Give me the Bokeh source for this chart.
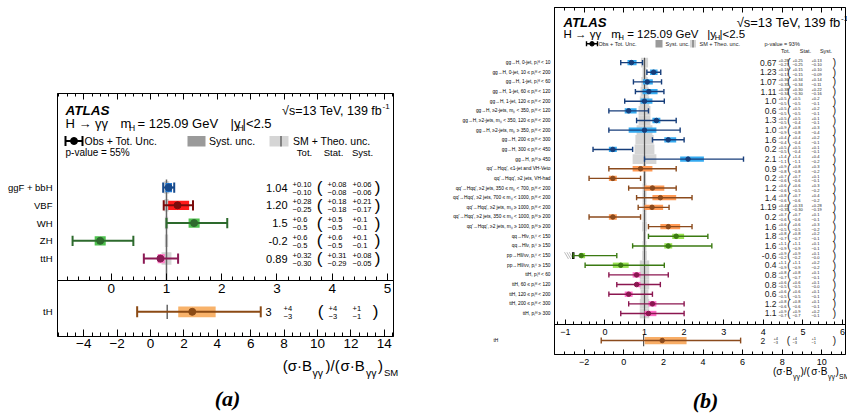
import numpy as np
from bokeh.plotting import figure
from bokeh.models import (Range1d, LinearAxis, FixedTicker, Label,
                          ColumnDataSource, CustomJSTickFormatter)
from bokeh.layouts import row
from bokeh.embed import file_html
from bokeh.resources import INLINE
from bokeh.core.properties import value

FONT = "Liberation Sans"
SERIF = "Liberation Serif"
MINUS = "\u2212"

# ======================= panel (a) data =======================
cats_a = ["ggF + bbH", "VBF", "WH", "ZH", "ttH"]
group_a = ["ggF", "VBF", "VH", "VH", "ttH"]
mu_txt_a = ["1.04", "1.20", "1.5", "-0.2", "0.89"]
tot_up_a = [0.10, 0.28, 0.6, 0.6, 0.32]
tot_dn_a = [0.10, 0.25, 0.5, 0.5, 0.30]
stat_up_a = [0.08, 0.18, 0.5, 0.6, 0.31]
stat_dn_a = [0.08, 0.18, 0.5, 0.5, 0.29]
syst_up_a = [0.06, 0.21, 0.1, 0.1, 0.08]
syst_dn_a = [0.06, 0.17, 0.1, 0.1, 0.05]
theo_a = [0.05, 0.04, 0.03, 0.03, 0.09]
pvalue_a = "55%"

th_name = "tH"
th_mu_a = 2.5
th_txt_a = "3"
th_tot_a = [4.1, 3.3]     # up, down
th_stat_a = [4.0, 3.2]
th_syst_a = [1.4, 0.84]

# ======================= panel (b) data =======================
P = "p\u209c\u1d34"
PV = "p\u209c\u2c7d"
MJ = "m\u2c7c\u2c7c"
cats_b = [
    f"gg\u2192H, 0-jet, {P} < 10",
    f"gg\u2192H, 0-jet, 10 \u2264 {P} < 200",
    f"gg\u2192H, 1-jet, {P} < 60",
    f"gg\u2192H, 1-jet, 60 \u2264 {P} < 120",
    f"gg\u2192H, 1-jet, 120 \u2264 {P} < 200",
    f"gg\u2192H, \u22652-jets, {MJ} < 350, {P} < 120",
    f"gg\u2192H, \u22652-jets, {MJ} < 350, 120 \u2264 {P} < 200",
    f"gg\u2192H, \u22652-jets, {MJ} \u2265 350, {P} < 200",
    f"gg\u2192H, 200 \u2264 {P} < 300",
    f"gg\u2192H, 300 \u2264 {P} < 450",
    f"gg\u2192H, {P} \u2265 450",
    "qq'\u2192Hqq', \u22641-jet and VH-Veto",
    "qq'\u2192Hqq', \u22652 jets, VH-had",
    f"qq'\u2192Hqq', \u22652 jets, 350 \u2264 {MJ} < 700, {P} < 200",
    f"qq'\u2192Hqq', \u22652 jets, 700 \u2264 {MJ} < 1000, {P} < 200",
    f"qq'\u2192Hqq', \u22652 jets, {MJ} \u2265 1000, {P} < 200",
    f"qq'\u2192Hqq', \u22652 jets, 350 \u2264 {MJ} < 1000, {P} \u2265 200",
    f"qq'\u2192Hqq', \u22652 jets, {MJ} \u2265 1000, {P} \u2265 200",
    f"qq\u2192Hl\u03bd, {PV} < 150",
    f"qq\u2192Hl\u03bd, {PV} \u2265 150",
    f"pp\u2192Hll/\u03bd\u03bd, {PV} < 150",
    f"pp\u2192Hll/\u03bd\u03bd, {PV} \u2265 150",
    f"ttH, {P} < 60",
    f"ttH, 60 \u2264 {P} < 120",
    f"ttH, 120 \u2264 {P} < 200",
    f"ttH, 200 \u2264 {P} < 300",
    f"ttH, {P} \u2265 300",
]
group_b = ["ggF"] * 11 + ["VBF"] * 7 + ["WH"] * 2 + ["ZH"] * 2 + ["ttH"] * 5
mu_txt_b = ["0.67", "1.23", "1.07", "1.11", "1.0", "0.6", "1.3", "1.0", "1.6", "0.2", "2.1",
            "0.9", "0.2", "1.2", "1.4", "1.19", "0.2", "1.6",
            "1.8", "1.6", "-0.6", "0.4",
            "0.8", "0.8", "0.6", "1.2", "1.1"]
tot_up_b = [0.28, 0.18, 0.36, 0.38, 0.5, 0.5, 0.5, 0.9, 0.4, 0.5, 1.4,
            0.9, 0.7, 0.6, 0.8, 0.43, 0.7, 0.6,
            0.8, 1.1, 0.9, 1.1,
            0.8, 0.6, 0.6, 0.8, 0.9]
tot_dn_b = [0.27, 0.17, 0.35, 0.34, 0.5, 0.5, 0.5, 0.9, 0.4, 0.5, 1.1,
            0.8, 0.6, 0.6, 0.6, 0.35, 0.6, 0.5,
            0.7, 0.9, 0.2, 0.9,
            0.7, 0.5, 0.5, 0.6, 0.7]
stat_up_b = [0.25, 0.15, 0.34, 0.30, 0.5, 0.5, 0.5, 0.8, 0.4, 0.5, 1.4,
             0.8, 0.7, 0.6, 0.7, 0.33, 0.7, 0.6,
             0.8, 1.1, 0.9, 1.1,
             0.8, 0.6, 0.6, 0.8, 0.9]
stat_dn_b = [0.25, 0.15, 0.34, 0.30, 0.5, 0.5, 0.4, 0.8, 0.4, 0.4, 1.1,
             0.8, 0.6, 0.5, 0.6, 0.30, 0.6, 0.5,
             0.7, 0.9, 0.2, 0.9,
             0.7, 0.5, 0.5, 0.6, 0.7]
syst_up_b = [0.13, 0.10, 0.14, 0.22, 0.2, 0.2, 0.1, 0.3, 0.2, 0.1, 0.4,
             0.3, 0.1, 0.3, 0.4, 0.28, 0.1, 0.3,
             0.2, 0.1, 0.1, 0.2,
             0.1, 0.1, 0.1, 0.1, 0.2]
syst_dn_b = [0.10, 0.09, 0.11, 0.16, 0.1, 0.1, 0.1, 0.4, 0.1, 0.1, 0.2,
             0.2, 0.1, 0.2, 0.2, 0.19, 0.1, 0.2,
             0.1, 0.1, 0.0, 0.2,
             0.1, 0.0, 0.1, 0.1, 0.1]
theo_b = [0.09, 0.05, 0.08, 0.10, 0.12, 0.15, 0.15, 0.20, 0.23, 0.25, 0.30,
          0.04, 0.04, 0.05, 0.05, 0.05, 0.05, 0.06,
          0.04, 0.05, 0.06, 0.12,
          0.12, 0.12, 0.10, 0.12, 0.12]
limit_rows_b = [20]
pvalue_b = "93%"

th_mu_b = 1.94
th_txt_b = "2"
th_tot_b = [3.96, 3.08]
th_stat_b = [3.8, 3.0]
th_syst_b = [1.23, 0.89]

# ======================= colours =======================
bar_col_a = {"ggF": "#174a8c", "VBF": "#7a0c0c", "VH": "#2d6a2d", "ttH": "#8b1a55", "tH": "#8b4a14"}
box_col_a = {"ggF": "#2379d2", "VBF": "#ff1a1a", "VH": "#4fc24f", "ttH": "#ff80c8", "tH": "#f8b26a"}
bar_col_b = {"ggF": "#163d7a", "VBF": "#8b4a1c", "WH": "#3b7a12", "ZH": "#3b7a12", "ttH": "#8b1650", "tH": "#8b4a1c"}
box_col_b = {"ggF": "#35aaf0", "VBF": "#ff9a55", "WH": "#97e050", "ZH": "#97e050", "ttH": "#ff6cc6", "tH": "#f8ad66"}
GREY_BAND = "#d5d5d5"
SM_LINE = "#666666"


def ndec(s):
    return len(s.split(".")[1]) if "." in s else 0


def up(v, d):
    return "+" + f"{v:.{d}f}"


def dn(v, d):
    return MINUS + f"{v:.{d}f}"


def lab(p, x, y, text, size, style="normal", align="left", font=FONT, color="black"):
    p.add_layout(Label(x=x, y=y, text=text, text_font_size=f"{size}px", text_font_style=style,
                       text_align=align, text_baseline="middle", text_font=font, text_color=color))


def texts(p, xs, ys, strs, size, align="left", font=FONT, color="black"):
    src = ColumnDataSource(dict(x=xs, y=ys, t=strs))
    p.text(x="x", y="y", text="t", source=src, text_font=value(font),
           text_font_size=value(f"{size}px"), text_align=value(align),
           text_baseline=value("middle"), text_color=value(color))


def theo_bands(p, ys, theo, h):
    src = ColumnDataSource(dict(l=[1 - t for t in theo], r=[1 + t for t in theo],
                                b=[y - h / 2 for y in ys], t=[y + h / 2 for y in ys]))
    p.quad(left="l", right="r", bottom="b", top="t", source=src, fill_color=GREY_BAND, line_color=None)


def draw_rows(p, ys, mu, tup, tdn, sup, sdn, bars, boxes, box_h, cap_h, lw, dot, rng="default"):
    src = ColumnDataSource(dict(
        y=ys, mu=mu,
        lo=[m - t for m, t in zip(mu, tdn)], hi=[m + t for m, t in zip(mu, tup)],
        slo=[m - s for m, s in zip(mu, sdn)], shi=[m + s for m, s in zip(mu, sup)],
        bb=[y - box_h / 2 for y in ys], bt=[y + box_h / 2 for y in ys],
        cb=[y - cap_h / 2 for y in ys], ct=[y + cap_h / 2 for y in ys],
        bar=bars, box=boxes))
    p.quad(left="slo", right="shi", bottom="bb", top="bt", source=src, fill_color="box",
           line_color=None, x_range_name=rng)
    p.segment(x0="lo", y0="y", x1="hi", y1="y", source=src, line_color="bar", line_width=lw, x_range_name=rng)
    p.segment(x0="lo", y0="cb", x1="lo", y1="ct", source=src, line_color="bar", line_width=lw, x_range_name=rng)
    p.segment(x0="hi", y0="cb", x1="hi", y1="ct", source=src, line_color="bar", line_width=lw, x_range_name=rng)
    p.scatter(x="mu", y="y", source=src, size=dot, fill_color="bar", line_color="bar", x_range_name=rng)


minus_fmt = CustomJSTickFormatter(code="return tick < 0 ? '\u2212' + Math.abs(tick) : String(tick);")
blank_fmt = CustomJSTickFormatter(code="return '';")


def x_axis(rng, majors, minors, size, standoff, tin, tmin, fixed, bounds, labels=True):
    return LinearAxis(x_range_name=rng, ticker=FixedTicker(ticks=majors, minor_ticks=minors),
                      formatter=minus_fmt if labels else blank_fmt, major_tick_in=tin, major_tick_out=0,
                      minor_tick_in=tmin, minor_tick_out=0, major_label_standoff=standoff,
                      major_label_text_font=FONT, major_label_text_color="black",
                      major_label_text_font_size=f"{size}px", fixed_location=fixed, bounds=bounds,
                      axis_line_color="black", major_tick_line_color="black", minor_tick_line_color="black")


def make_fig(w, h, xr, yr, thr):
    p = figure(width=w, height=h, x_range=Range1d(*xr), y_range=Range1d(*yr),
               x_axis_type=None, y_axis_type=None, output_backend="svg", toolbar_location=None,
               min_border=0, outline_line_color=None, background_fill_color="white",
               border_fill_color="white")
    p.extra_x_ranges = {"th": Range1d(*thr)}
    return p


W_A = 418
W_B = 847 - W_A
H = 415

# ======================= panel (a) =======================
XA = lambda px: -0.973 + (px - 57) / 55.24        # page px -> main mu
TA = lambda px: -5.57 + (px - 57) / 16.7          # page px -> tH mu
YA = lambda py: -3.39 + (336 - py) / 17.75        # page py -> row coordinate
UA = 17.75

pa = make_fig(W_A, H, (XA(0), XA(W_A)), (YA(H), YA(0)), (TA(0), TA(W_A)))

ys_a = [5, 4, 3, 2, 1]
y_th_a = -2
mu_a = [float(s) for s in mu_txt_a]
th_major_a = list(range(-4, 15, 2))
th_minor_a = [float(v) for v in np.arange(-5.5, 14.6, 0.5)]

pa.add_layout(x_axis("default", list(range(0, 6)), [round(float(v), 2) for v in np.arange(-0.8, 5.11, 0.2)],
                     13.5, 3, 7, 4, YA(280), (XA(57), XA(393))), "below")
pa.add_layout(x_axis("th", th_major_a, th_minor_a, 13.5, 2, 7, 4, YA(336), (TA(57), TA(393))), "below")
pa.add_layout(x_axis("th", th_major_a, th_minor_a, 1, 0, 6, 3, YA(93), (TA(57), TA(393)), labels=False), "above")

theo_bands(pa, ys_a, theo_a, 0.7)
pa.segment(x0=[1], y0=[YA(280)], x1=[1], y1=[ys_a[0] + 0.45], line_color=SM_LINE, line_width=1.5)
pa.segment(x0=[1], y0=[y_th_a - 0.4], x1=[1], y1=[y_th_a + 0.4], line_color=SM_LINE, line_width=1.5,
           x_range_name="th")
draw_rows(pa, ys_a, mu_a, tot_up_a, tot_dn_a, syst_up_a, syst_dn_a,
          [bar_col_a[g] for g in group_a], [box_col_a[g] for g in group_a], 0.52, 0.58, 2, 7)
draw_rows(pa, [y_th_a], [th_mu_a], [th_tot_a[0]], [th_tot_a[1]], [th_syst_a[0]], [th_syst_a[1]],
          [bar_col_a["tH"]], [box_col_a["tH"]], 0.6, 0.62, 2, 7, rng="th")
pa.quad(left=[XA(57)], right=[XA(393)], bottom=[YA(336)], top=[YA(93)], fill_color=None,
        line_color="black", line_width=1)

# category labels (a)
texts(pa, [XA(52)] * 6, ys_a + [y_th_a], cats_a + [th_name], 9.5, align="right")

# value columns (a)
dec_a = [ndec(s) for s in mu_txt_a]
yu_a = [y + 3.5 / UA for y in ys_a]
yd_a = [y - 4.5 / UA for y in ys_a]
texts(pa, [XA(287)] * 5, ys_a, mu_txt_a, 11, align="right")
texts(pa, [XA(292)] * 5, yu_a, [up(v, d) for v, d in zip(tot_up_a, dec_a)], 7.5)
texts(pa, [XA(292)] * 5, yd_a, [dn(v, d) for v, d in zip(tot_dn_a, dec_a)], 7.5)
texts(pa, [XA(319)] * 5, ys_a, ["("] * 5, 17, align="center")
texts(pa, [XA(327)] * 5, yu_a, [up(v, d) for v, d in zip(stat_up_a, dec_a)], 7.5)
texts(pa, [XA(327)] * 5, yd_a, [dn(v, d) for v, d in zip(stat_dn_a, dec_a)], 7.5)
texts(pa, [XA(352)] * 5, yu_a, [up(v, d) for v, d in zip(syst_up_a, dec_a)], 7.5)
texts(pa, [XA(352)] * 5, yd_a, [dn(v, d) for v, d in zip(syst_dn_a, dec_a)], 7.5)
texts(pa, [XA(377)] * 5, ys_a, [")"] * 5, 17, align="center")
d = ndec(th_txt_a)
texts(pa, [XA(265)], [y_th_a], [th_txt_a], 11)
texts(pa, [XA(283), XA(283), XA(328), XA(328), XA(352), XA(352)],
      [y_th_a + 3.5 / UA, y_th_a - 4.5 / UA] * 3,
      [up(th_tot_a[0], d), dn(th_tot_a[1], d), up(th_stat_a[0], d), dn(th_stat_a[1], d),
       up(th_syst_a[0], d), dn(th_syst_a[1], d)], 7.5)
texts(pa, [XA(320), XA(375)], [y_th_a, y_th_a], ["(", ")"], 17, align="center")

# header (a)
lab(pa, XA(65), YA(110), "ATLAS", 13.5, "bold italic")
lab(pa, XA(381.5), YA(110), "\u221as=13 TeV, 139 fb", 12.5, align="right")
lab(pa, XA(382), YA(105.5), "-1", 8)
lab(pa, XA(65), YA(123), "H \u2192 \u03b3\u03b3", 13)
lab(pa, XA(120), YA(123), "m", 13)
lab(pa, XA(128.5), YA(127.5), "H", 8.5)
lab(pa, XA(137), YA(123), "= 125.09 GeV", 13)
lab(pa, XA(230), YA(123), "|y", 13)
lab(pa, XA(237), YA(127.5), "H", 8.5)
lab(pa, XA(242), YA(123), "|<2.5", 13)
# legend (a)
ly = YA(140.5)
pa.segment(x0=[XA(65)], y0=[ly], x1=[XA(82)], y1=[ly], line_color="black", line_width=2)
pa.segment(x0=[XA(65), XA(82)], y0=[ly - 5 / UA] * 2, x1=[XA(65), XA(82)], y1=[ly + 5 / UA] * 2,
           line_color="black", line_width=2)
pa.scatter(x=[XA(73.5)], y=[ly], size=7, color="black")
pa.quad(left=[XA(187)], right=[XA(205)], bottom=[YA(146)], top=[YA(135.5)], fill_color="#9a9a9a", line_color=None)
pa.quad(left=[XA(269)], right=[XA(288)], bottom=[YA(146)], top=[YA(135.5)], fill_color=GREY_BAND, line_color=None)
pa.segment(x0=[XA(280.5)], y0=[YA(146)], x1=[XA(280.5)], y1=[YA(135.5)], line_color=SM_LINE, line_width=1.5)
lab(pa, XA(84), ly, "Obs + Tot. Unc.", 10.5)
lab(pa, XA(208.5), ly, "Syst. unc.", 10.5)
lab(pa, XA(292.5), ly, "SM + Theo. unc.", 10.5)
lab(pa, XA(65), YA(151.5), "p-value = " + pvalue_a, 10)
lab(pa, XA(304), YA(151.5), "Tot.", 9.5, align="center")
lab(pa, XA(333), YA(151.5), "Stat.", 9.5, align="center")
lab(pa, XA(362), YA(151.5), "Syst.", 9.5, align="center")
# axis title (a)
lab(pa, XA(311.5), YA(365), "(\u03c3\u00b7B", 15, align="right")
lab(pa, XA(312), YA(372), "\u03b3\u03b3", 10.5)
lab(pa, XA(325), YA(365), ")/(", 15)
lab(pa, XA(340), YA(365), "\u03c3\u00b7B", 15)
lab(pa, XA(365.5), YA(372), "\u03b3\u03b3", 10.5)
lab(pa, XA(377.5), YA(365), ")", 15)
lab(pa, XA(383.5), YA(372), "SM", 9.5)
lab(pa, XA(227), YA(398), "(a)", 22, "bold italic", align="center", font=SERIF)

# ======================= panel (b) =======================
XB = lambda px: -1.273 + (px - 554) / 39.6
TB = lambda px: -3.5 + (px - 554) / 19.8
YB = lambda py: -3.249 + (354 - py) / 9.65
UB = 9.65

pb = make_fig(W_B, H, (XB(W_A), XB(847)), (YB(H), YB(0)), (TB(W_A), TB(847)))

n_b = len(cats_b)
ys_b = [n_b - k for k in range(n_b)]
y_th_b = -1.8
mu_b = [float(s) for s in mu_txt_b]
th_major_b = list(range(-2, 12, 2))
th_minor_b = [float(v) for v in np.arange(-3.5, 11.1, 0.5)]

pb.add_layout(x_axis("default", list(range(-1, 7)), [round(float(v), 2) for v in np.arange(-1.2, 6.05, 0.2)],
                     9, 4, 5, 3, YB(324), (XB(554), XB(845))), "below")
pb.add_layout(x_axis("th", th_major_b, th_minor_b, 9, 4, 5, 3, YB(354), (TB(554), TB(845))), "below")
pb.add_layout(x_axis("th", th_major_b, th_minor_b, 1, 0, 5, 3, YB(7), (TB(554), TB(845)), labels=False), "above")

theo_bands(pb, ys_b, theo_b, 1.0)
pb.segment(x0=[1], y0=[YB(324)], x1=[1], y1=[ys_b[0] + 0.5], line_color="#555555", line_width=1.2)
pb.segment(x0=[1], y0=[y_th_b - 0.6], x1=[1], y1=[y_th_b + 0.6], line_color="#555555", line_width=1.2,
           x_range_name="th")
for k in limit_rows_b:
    lo = mu_b[k] - tot_dn_b[k]
    pb.segment(x0=[lo - 0.22 + 0.06 * i for i in range(3)], y0=[ys_b[k] + 0.35] * 3,
               x1=[lo - 0.12 + 0.06 * i for i in range(3)], y1=[ys_b[k] - 0.35] * 3,
               line_color="#bbbbbb", line_width=1)
    pb.segment(x0=[lo], y0=[ys_b[k] - 0.35], x1=[lo], y1=[ys_b[k] + 0.35], line_color="black", line_width=2.5)
draw_rows(pb, ys_b, mu_b, tot_up_b, tot_dn_b, syst_up_b, syst_dn_b,
          [bar_col_b[g] for g in group_b], [box_col_b[g] for g in group_b], 0.55, 0.55, 1.4, 4.5)
draw_rows(pb, [y_th_b], [th_mu_b], [th_tot_b[0]], [th_tot_b[1]], [th_syst_b[0]], [th_syst_b[1]],
          [bar_col_b["tH"]], [box_col_b["tH"]], 0.75, 0.6, 1.4, 4.5, rng="th")
pb.quad(left=[XB(554)], right=[XB(845)], bottom=[YB(354)], top=[YB(7)], fill_color=None,
        line_color="black", line_width=1)

# category labels (b)
texts(pb, [XB(550)] * n_b, ys_b, cats_b, 4.8, align="right")
texts(pb, [XB(493)], [y_th_b], [th_name], 4.8)

# value columns (b)
dec_b = [ndec(s) for s in mu_txt_b]
yu_b = [y + 2.3 / UB for y in ys_b]
yd_b = [y - 2.4 / UB for y in ys_b]
TC = "#222222"
texts(pb, [XB(776)] * n_b, ys_b, mu_txt_b, 8.5, align="right", color=TC)
texts(pb, [XB(778)] * n_b, yu_b, [up(v, d) for v, d in zip(tot_up_b, dec_b)], 4, color=TC)
texts(pb, [XB(778)] * n_b, yd_b, [dn(v, d) for v, d in zip(tot_dn_b, dec_b)], 4, color=TC)
texts(pb, [XB(788.5)] * n_b, ys_b, ["("] * n_b, 10, align="center", color=TC)
texts(pb, [XB(792)] * n_b, yu_b, [up(v, d) for v, d in zip(stat_up_b, dec_b)], 4, color=TC)
texts(pb, [XB(792)] * n_b, yd_b, [dn(v, d) for v, d in zip(stat_dn_b, dec_b)], 4, color=TC)
texts(pb, [XB(811)] * n_b, yu_b, [up(v, d) for v, d in zip(syst_up_b, dec_b)], 4, color=TC)
texts(pb, [XB(811)] * n_b, yd_b, [dn(v, d) for v, d in zip(syst_dn_b, dec_b)], 4, color=TC)
texts(pb, [XB(834)] * n_b, ys_b, [")"] * n_b, 10, align="center", color=TC)
d = ndec(th_txt_b)
texts(pb, [XB(760)], [y_th_b], [th_txt_b], 8.5, color=TC)
texts(pb, [XB(773), XB(773), XB(792), XB(792), XB(811), XB(811)],
      [y_th_b + 2.3 / UB, y_th_b - 2.4 / UB] * 3,
      [up(th_tot_b[0], d), dn(th_tot_b[1], d), up(th_stat_b[0], d), dn(th_stat_b[1], d),
       up(th_syst_b[0], d), dn(th_syst_b[1], d)], 4, color=TC)
texts(pb, [XB(788), XB(834)], [y_th_b, y_th_b], ["(", ")"], 10, align="center", color=TC)

# header (b)
lab(pb, XB(563), YB(21.7), "ATLAS", 13.2, "bold italic")
lab(pb, XB(840), YB(21.7), "\u221as=13 TeV, 139 fb", 13, align="right")
lab(pb, XB(840.5), YB(17.5), "-1", 8)
lab(pb, XB(563), YB(33.3), "H \u2192 \u03b3\u03b3", 11.5)
lab(pb, XB(610.7), YB(33.3), "m", 11.5)
lab(pb, XB(618), YB(37), "H", 7.5)
lab(pb, XB(626.7), YB(33.3), "= 125.09 GeV", 11.5)
lab(pb, XB(706.7), YB(33.3), "|y", 11.5)
lab(pb, XB(714.3), YB(37), "H", 7.5)
lab(pb, XB(719), YB(33.3), "|<2.5", 11.5)
ly = YB(43.3)
pb.segment(x0=[XB(586)], y0=[ly], x1=[XB(597)], y1=[ly], line_color="black", line_width=1.4)
pb.segment(x0=[XB(586), XB(597)], y0=[ly - 2.5 / UB] * 2, x1=[XB(586), XB(597)], y1=[ly + 2.5 / UB] * 2,
           line_color="black", line_width=1.4)
pb.scatter(x=[XB(591.5)], y=[ly], size=4.5, color="black")
pb.quad(left=[XB(655)], right=[XB(662)], bottom=[YB(47)], top=[YB(39.5)], fill_color="#9a9a9a", line_color=None)
pb.quad(left=[XB(689.5)], right=[XB(695.5)], bottom=[YB(47)], top=[YB(39.5)], fill_color=GREY_BAND, line_color=None)
pb.segment(x0=[XB(692.5)], y0=[YB(47)], x1=[XB(692.5)], y1=[YB(39.5)], line_color="#555555", line_width=1)
lab(pb, XB(598), ly, "Obs + Tot. Unc.", 5.5, color=TC)
lab(pb, XB(665), ly, "Syst. unc.", 5.5, color=TC)
lab(pb, XB(699), ly, "SM + Theo. unc.", 5.5, color=TC)
lab(pb, XB(764), ly, "p-value = " + pvalue_b, 5.5, color=TC)
lab(pb, XB(785), YB(50.5), "Tot.", 5.5, align="center", color=TC)
lab(pb, XB(805), YB(50.5), "Stat.", 5.5, align="center", color=TC)
lab(pb, XB(825.5), YB(50.5), "Syst.", 5.5, align="center", color=TC)
# axis title (b)
lab(pb, XB(792), YB(371), "(\u03c3\u00b7B", 10, align="right")
lab(pb, XB(792.5), YB(375.5), "\u03b3\u03b3", 7)
lab(pb, XB(800), YB(371), ")/(", 10)
lab(pb, XB(827), YB(371), "\u03c3\u00b7B", 10, align="right")
lab(pb, XB(827.5), YB(375.5), "\u03b3\u03b3", 7)
lab(pb, XB(835), YB(371), ")", 10)
lab(pb, XB(838.5), YB(375.5), "SM", 7)
lab(pb, XB(705), YB(400), "(b)", 22, "bold italic", align="center", font=SERIF)

layout = row(pa, pb)
open("out.html", "w").write(file_html(layout, INLINE))
